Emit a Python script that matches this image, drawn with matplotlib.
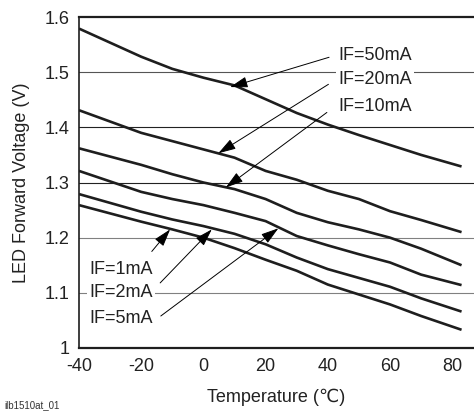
import matplotlib
matplotlib.use("Agg")
import matplotlib.pyplot as plt

plt.rcParams['font.family'] = ['Liberation Sans', 'DejaVu Sans']
plt.rcParams['axes.unicode_minus'] = False

# temperatures (degC)
temps = [-40, -20, -10, 0, 10, 20, 30, 40, 50, 60, 70, 83]

# forward voltage (V) for each drive current
vf_50mA = [1.579, 1.528, 1.506, 1.490, 1.476, 1.451, 1.426, 1.405, 1.386, 1.368, 1.350, 1.329]
vf_20mA = [1.431, 1.390, 1.375, 1.360, 1.345, 1.321, 1.305, 1.285, 1.270, 1.248, 1.232, 1.210]
vf_10mA = [1.362, 1.332, 1.315, 1.300, 1.288, 1.270, 1.245, 1.228, 1.215, 1.200, 1.180, 1.150]
vf_5mA = [1.321, 1.283, 1.270, 1.259, 1.245, 1.230, 1.203, 1.186, 1.170, 1.155, 1.133, 1.114]
vf_2mA = [1.279, 1.247, 1.233, 1.221, 1.207, 1.188, 1.164, 1.143, 1.127, 1.111, 1.090, 1.066]
vf_1mA = [1.259, 1.229, 1.215, 1.200, 1.181, 1.160, 1.140, 1.115, 1.097, 1.079, 1.058, 1.033]

series = [vf_50mA, vf_20mA, vf_10mA, vf_5mA, vf_2mA, vf_1mA]

labels = ['IF=50mA', 'IF=20mA', 'IF=10mA', 'IF=1mA', 'IF=2mA', 'IF=5mA']
# (text x, text y, arrow tail x, tail y, arrow tip x, tip y) in data units
label_pos = [
    (43.3, 1.531, 40.4, 1.527, 8.6, 1.473),
    (43.3, 1.486, 40.2, 1.478, 4.8, 1.353),
    (43.3, 1.437, 39.7, 1.427, 7.2, 1.291),
    (-36.8, 1.143, -16.6, 1.175, -10.7, 1.215),
    (-36.8, 1.100, -13.9, 1.118, 2.7, 1.215),
    (-36.8, 1.054, -13.7, 1.058, 24.1, 1.217),
]

grid_levels = [1.1, 1.2, 1.3, 1.4, 1.5]
grid_colors = ['#808080', '#808080', '#222222', '#222222', '#555555']

xticks = [-40, -20, 0, 20, 40, 60, 80]
yticks = [1, 1.1, 1.2, 1.3, 1.4, 1.5, 1.6]
ytick_labels = ['1', '1.1', '1.2', '1.3', '1.4', '1.5', '1.6']

fig = plt.figure(figsize=(4.74, 4.12), dpi=100)
ax = fig.add_axes([79/474, 1 - 348/412, 395/474, 331/412])

for v, c in zip(grid_levels, grid_colors):
    ax.axhline(v, color=c, lw=0.8, zorder=1)

for s in series:
    ax.plot(temps, s, color='#1e1e1e', lw=1.9, solid_capstyle='butt', zorder=2)

for lab, (tx, ty, ax0, ay0, ax1, ay1) in zip(labels, label_pos):
    ax.text(tx, ty, lab, fontsize=13, va='center', ha='left', color='#222222',
            bbox=dict(facecolor='white', edgecolor='none', pad=1.5), zorder=4)
    ax.annotate('', xy=(ax1, ay1), xytext=(ax0, ay0),
                arrowprops=dict(arrowstyle='-|>,head_length=0.9,head_width=0.28',
                                color='black', lw=0.7, mutation_scale=12,
                                shrinkA=0, shrinkB=0), zorder=5)

ax.set_xlim(-40, 87)
ax.set_ylim(1.0, 1.6)
ax.set_xticks(xticks)
ax.set_yticks(yticks)
ax.set_yticklabels(ytick_labels)
ax.tick_params(length=0, labelsize=13, pad=7, colors='#222222')

ax.spines['right'].set_visible(False)
ax.spines['top'].set_linewidth(1.6)
ax.spines['bottom'].set_linewidth(1.6)
ax.spines['left'].set_linewidth(1.2)
for sp in ['top', 'bottom', 'left']:
    ax.spines[sp].set_color('#1e1e1e')

ax.set_xlabel('Temperature (℃)', fontsize=13, labelpad=10, color='#222222')
ax.set_ylabel('LED Forward Voltage (V)', fontsize=13, labelpad=10, color='#222222')

fig.text(4/474, 1 - 405/412, 'ilb1510at_01', fontsize=7, va='center', ha='left', color='#333333')

fig.savefig('out.png', dpi=100)
